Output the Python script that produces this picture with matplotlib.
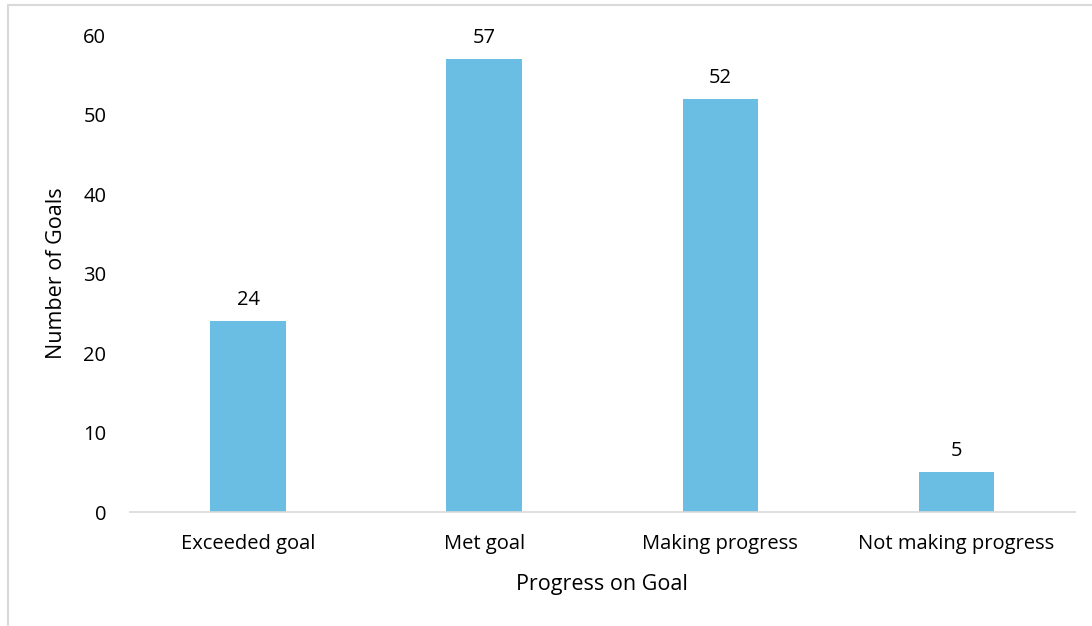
import matplotlib
matplotlib.use('Agg')
import matplotlib.pyplot as plt
from matplotlib.patches import Rectangle

# data
categories = ['Exceeded goal', 'Met goal', 'Making progress', 'Not making progress']
goal_counts = [24, 57, 52, 5]
y_ticks = [0, 10, 20, 30, 40, 50, 60]

plt.rcParams['font.family'] = ['Open Sans', 'DejaVu Sans']

fig = plt.figure(figsize=(10.92, 6.26), dpi=100)
ax = fig.add_axes([0.119, 0.182, 0.865, 0.762])

x = range(len(categories))
bars = ax.bar(x, goal_counts, width=0.32, color='#6ABEE3')
for b, v in zip(bars, goal_counts):
    ax.annotate(str(v), (b.get_x() + b.get_width() / 2, v), xytext=(0, 8),
                textcoords='offset points', ha='center', va='bottom',
                fontsize=14.5, color='black')

ax.set_xlim(-0.5, len(categories) - 0.5)
ax.set_ylim(0, 60)
ax.set_yticks(y_ticks)
ax.set_xticks(list(x))
ax.set_xticklabels(categories)
ax.tick_params(axis='both', length=0, labelsize=14.5, colors='black')
ax.tick_params(axis='y', pad=17)
ax.tick_params(axis='x', pad=16)

for s in ['top', 'right', 'left']:
    ax.spines[s].set_visible(False)
ax.spines['bottom'].set_color('#D9D9D9')
ax.spines['bottom'].set_linewidth(1.2)

ax.set_xlabel('Progress on Goal', fontsize=15.5, labelpad=14)
ax.set_ylabel('Number of Goals', fontsize=15.5, labelpad=12)

# light chart-area border (partially cropped in the reference)
fig.patches.append(Rectangle((8 / 1092, -0.1), 1.2, 1 - 5 / 626 + 0.1,
                             transform=fig.transFigure, fill=False,
                             edgecolor='#D9D9D9', linewidth=1.5))

fig.savefig('out.png', dpi=100)
